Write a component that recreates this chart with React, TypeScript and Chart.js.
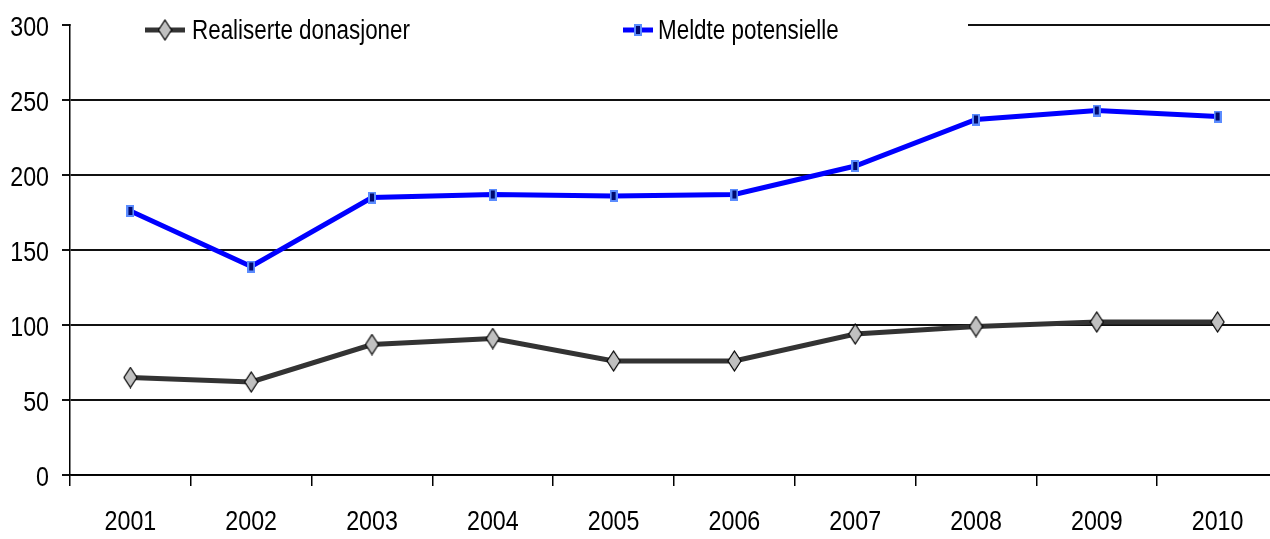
import React, { useEffect, useRef } from "react";
import { Chart, registerables } from "chart.js";
Chart.register(...registerables);

const years = ["2001", "2002", "2003", "2004", "2005", "2006", "2007", "2008", "2009", "2010"];
const realiserte = [65, 62, 87, 91, 76, 76, 94, 99, 102, 102];
const meldte = [176, 139, 185, 187, 186, 187, 206, 237, 243, 239];
const seriesNames = ["Realiserte donasjoner", "Meldte potensielle"];
const yMin = 0;
const yMax = 300;
const yStep = 50;

const FONT = "'Liberation Sans', Arial, sans-serif";
const NARROW = 0.83;

function makeDiamond(): HTMLCanvasElement {
  const c = document.createElement("canvas");
  c.width = 15;
  c.height = 22;
  const ctx = c.getContext("2d")!;
  ctx.beginPath();
  ctx.moveTo(7.5, 1);
  ctx.lineTo(14, 11);
  ctx.lineTo(7.5, 21);
  ctx.lineTo(1, 11);
  ctx.closePath();
  ctx.fillStyle = "#c0c0c0";
  ctx.fill();
  ctx.lineWidth = 1.2;
  ctx.strokeStyle = "#000";
  ctx.stroke();
  return c;
}

function makeBlueMark(): HTMLCanvasElement {
  const c = document.createElement("canvas");
  c.width = 8;
  c.height = 12;
  const ctx = c.getContext("2d")!;
  ctx.fillStyle = "#5b8cff";
  ctx.fillRect(0, 0, 8, 12);
  ctx.fillStyle = "#000a6e";
  ctx.fillRect(2, 2, 4, 8);
  return c;
}

function narrowText(ctx: CanvasRenderingContext2D, text: string, x: number, y: number, align: CanvasTextAlign, size: number) {
  ctx.save();
  ctx.translate(x, y);
  ctx.scale(NARROW, 1);
  ctx.font = `${size}px ${FONT}`;
  ctx.fillStyle = "#000";
  ctx.textAlign = align;
  ctx.textBaseline = "middle";
  ctx.fillText(text, 0, 0);
  ctx.restore();
}

export default function App() {
  const ref = useRef<HTMLCanvasElement | null>(null);

  useEffect(() => {
    document.body.style.margin = "0";
    const canvas = ref.current!;
    const diamond = makeDiamond();
    const blue = makeBlueMark();

    const labelsPlugin = {
      id: "narrowLabels",
      beforeDatasetsDraw(chart: any) {
        const { ctx, chartArea } = chart;
        ctx.save();
        ctx.fillStyle = "#fff";
        ctx.fillRect(chartArea.left + 1, chartArea.top - 3, 968 - chartArea.left - 1, 6);
        ctx.restore();
      },
      afterDraw(chart: any) {
        const { ctx } = chart;
        const xs = chart.scales.x;
        const ys = chart.scales.y;
        xs.ticks.forEach((t: any, i: number) => {
          narrowText(ctx, String(xs.getLabelForValue(t.value)), xs.getPixelForTick(i), xs.top + 47, "center", 28);
        });
        ys.ticks.forEach((t: any, i: number) => {
          narrowText(ctx, String(t.label), ys.right - 21, ys.getPixelForTick(i) + 3, "right", 28);
        });

        const y = 30;
        const items = [
          { x1: 145, x2: 185, color: "#333333", img: diamond, tx: 192, text: seriesNames[0] },
          { x1: 623, x2: 653, color: "#0000ff", img: blue, tx: 658, text: seriesNames[1] },
        ];
        for (const it of items) {
          ctx.save();
          ctx.beginPath();
          ctx.moveTo(it.x1, y);
          ctx.lineTo(it.x2, y);
          ctx.strokeStyle = it.color;
          ctx.lineWidth = 5;
          ctx.stroke();
          const cx = (it.x1 + it.x2) / 2;
          ctx.drawImage(it.img, cx - it.img.width / 2, y - it.img.height / 2);
          ctx.restore();
          narrowText(ctx, it.text, it.tx, y + 2, "left", 27);
        }
      },
    };

    const chart = new Chart(canvas, {
      type: "line",
      data: {
        labels: years,
        datasets: [
          {
            label: seriesNames[0],
            data: realiserte,
            borderColor: "#333333",
            borderWidth: 5,
            pointStyle: diamond as any,
            pointRadius: 10,
            tension: 0,
          },
          {
            label: seriesNames[1],
            data: meldte,
            borderColor: "#0000ff",
            borderWidth: 5,
            pointStyle: blue as any,
            pointRadius: 6,
            tension: 0,
          },
        ],
      },
      options: {
        responsive: false,
        animation: false,
        events: [],
        layout: { autoPadding: false, padding: { top: 25, right: 2, left: 0, bottom: 0 } },
        plugins: {
          legend: { display: false },
          tooltip: { enabled: false },
        },
        scales: {
          x: {
            offset: true,
            grid: {
              offset: true,
              drawOnChartArea: false,
              drawTicks: true,
              tickLength: 11,
              color: "#000",
              lineWidth: 1.5,
            },
            border: { display: true, color: "#000", width: 1.5 },
            ticks: { display: false, autoSkip: false },
            afterFit(scale: any) {
              scale.height = 64;
            },
          },
          y: {
            min: yMin,
            max: yMax,
            grid: {
              color: "#111",
              lineWidth: 2,
              drawTicks: true,
              tickLength: 8,
            },
            border: { display: true, color: "#000", width: 1.5 },
            ticks: { stepSize: yStep, display: false },
            afterFit(scale: any) {
              scale.width = 70;
            },
          },
        },
      },
      plugins: [labelsPlugin],
    });
    return () => chart.destroy();
  }, []);

  return (
    <div style={{ width: 1270, height: 539, overflow: "hidden", position: "relative", background: "#fff" }}>
      <canvas ref={ref} width={1280} height={539} style={{ display: "block", width: 1280, height: 539 }} />
    </div>
  );
}
